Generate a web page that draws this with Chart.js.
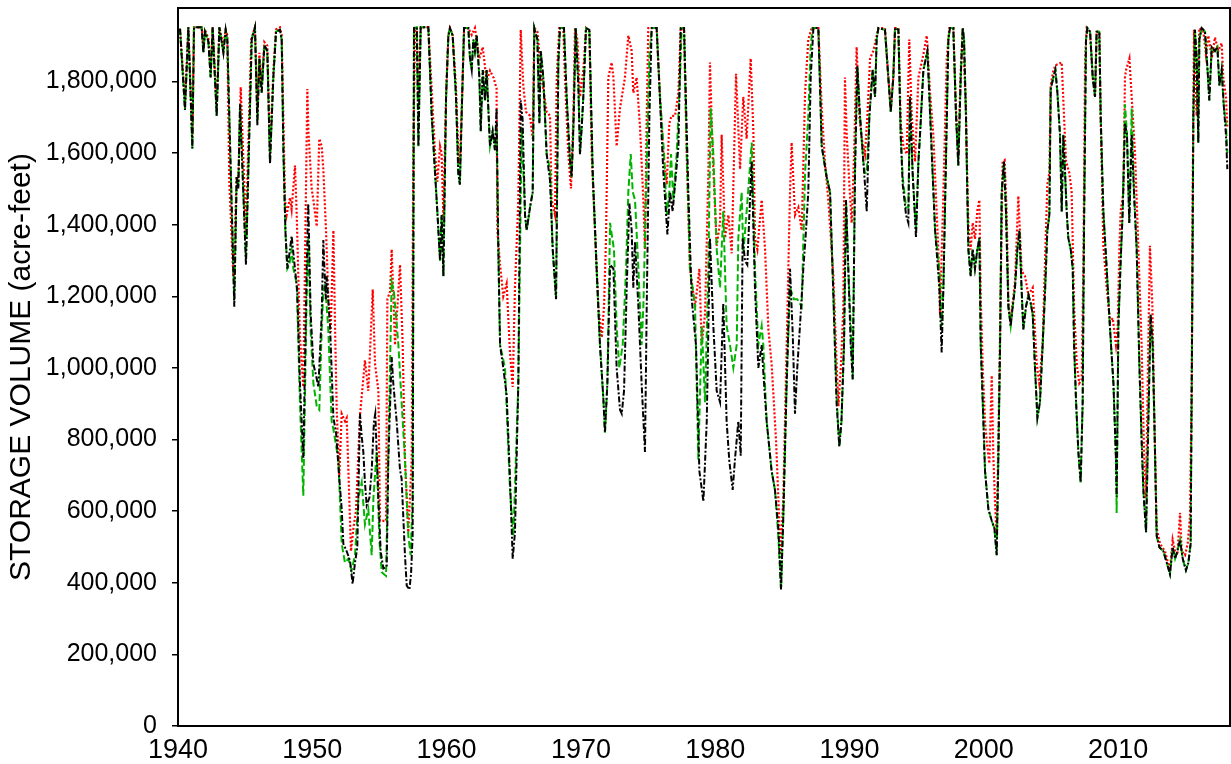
<!DOCTYPE html>
<html>
<head>
<meta charset="utf-8">
<title>Storage volume</title>
<script src="https://cdn.jsdelivr.net/npm/chart.js@4.4.1/dist/chart.umd.min.js"></script>
<style>
  html, body { margin: 0; padding: 0; background: #fff; }
  #wrap { width: 1231px; height: 764px; }
</style>
</head>
<body>
<div id="wrap"><canvas id="storage" width="1231" height="764"></canvas></div>
<script>
// storage series, [year, thousand acre-feet]
const historical = [
  [1940.15,1947],[1940.52,1720],[1940.77,1951],[1941.07,1613],[1941.19,1951],[1941.76,1951],[1941.89,1880],[1942.01,1939],
  [1942.26,1912],[1942.43,1811],[1942.58,1951],[1942.88,1704],[1943.08,1951],[1943.38,1880],[1943.55,1944],[1943.67,1917],
  [1944.19,1171],[1944.37,1533],[1944.49,1501],[1944.62,1736],[1945.06,1288],[1945.49,1917],[1945.73,1951],[1945.91,1677],
  [1946.06,1864],[1946.23,1768],[1946.43,1901],[1946.65,1885],[1946.85,1571],[1947.10,1811],[1947.30,1939],[1947.59,1944],
  [1947.72,1917],[1947.85,1600],[1948.00,1380],[1948.14,1277],[1948.30,1320],[1948.46,1368],[1948.71,1277],[1948.88,1213],
  [1949.08,957],[1949.33,749],[1949.58,1277],[1949.70,1459],[1949.88,1149],[1950.08,1011],[1950.28,979],[1950.45,946],
  [1950.70,1149],[1950.82,1357],[1951.00,1192],[1951.07,1256],[1951.32,1117],[1951.57,861],[1951.77,819],[1952.01,691],
  [1952.19,605],[1952.31,509],[1952.56,488],[1952.81,461],[1953.00,397],[1953.18,456],[1953.35,499],[1953.55,872],
  [1953.68,808],[1953.80,765],[1953.92,680],[1954.05,616],[1954.25,637],[1954.42,712],[1954.59,851],[1954.69,872],
  [1954.92,637],[1955.09,488],[1955.29,440],[1955.54,445],[1955.66,744],[1955.91,1030],[1956.03,957],[1956.28,851],
  [1956.53,715],[1956.65,691],[1956.90,477],[1957.03,392],[1957.23,381],[1957.35,424],[1957.47,531],[1957.57,1949],
  [1957.78,1951],[1957.90,1619],[1958.07,1951],[1958.64,1951],[1958.89,1704],[1959.14,1544],[1959.31,1437],[1959.51,1299],
  [1959.63,1427],[1959.76,1256],[1959.96,1757],[1960.13,1928],[1960.25,1949],[1960.45,1928],[1960.70,1757],[1960.87,1544],
  [1960.99,1512],[1961.12,1704],[1961.30,1949],[1961.62,1949],[1961.74,1864],[1961.87,1832],[1961.99,1917],[1962.11,1885],
  [1962.24,1928],[1962.44,1811],[1962.54,1661],[1962.69,1832],[1962.86,1747],[1962.98,1832],[1963.23,1619],[1963.43,1661],
  [1963.60,1608],[1963.72,1725],[1963.85,1331],[1963.98,1064],[1964.22,1000],[1964.47,925],[1964.72,691],[1964.92,467],
  [1965.09,541],[1965.34,957],[1965.52,1747],[1965.66,1693],[1965.84,1427],[1965.96,1384],[1966.21,1448],[1966.41,1491],
  [1966.53,1949],[1966.76,1917],[1966.91,1683],[1967.01,1885],[1967.20,1811],[1967.45,1597],[1967.70,1523],[1967.90,1331],
  [1968.15,1192],[1968.32,1853],[1968.44,1949],[1968.74,1949],[1968.94,1757],[1969.19,1576],[1969.31,1533],[1969.44,1672],
  [1969.61,1949],[1969.81,1789],[1969.93,1597],[1970.06,1672],[1970.18,1757],[1970.38,1949],[1970.63,1944],[1970.88,1544],
  [1971.17,1277],[1971.42,1064],[1971.67,915],[1971.79,819],[1971.97,957],[1972.17,1288],[1972.42,1277],[1972.66,1000],
  [1972.91,883],[1973.04,872],[1973.21,936],[1973.41,1224],[1973.61,1459],[1973.78,1384],[1973.90,1224],[1974.03,1352],
  [1974.28,1171],[1974.52,957],[1974.77,765],[1974.90,1171],[1975.10,1704],[1975.27,1949],[1975.64,1949],[1975.89,1747],
  [1976.14,1544],[1976.44,1373],[1976.64,1491],[1976.83,1437],[1977.01,1512],[1977.26,1619],[1977.43,1949],[1977.68,1949],
  [1978.00,1491],[1978.25,1192],[1978.57,1064],[1978.82,712],[1979.12,627],[1979.37,851],[1979.61,1363],[1979.86,1117],
  [1980.11,936],[1980.36,904],[1980.60,1181],[1980.85,851],[1981.05,740],[1981.30,659],[1981.47,744],[1981.72,851],
  [1981.90,755],[1982.04,1363],[1982.22,1299],[1982.39,1288],[1982.71,1576],[1982.96,1224],[1983.21,1000],[1983.46,1064],
  [1983.58,989],[1983.83,851],[1984.20,712],[1984.45,659],[1984.70,552],[1984.90,381],[1985.07,584],[1985.32,957],
  [1985.57,1277],[1985.77,1096],[1985.94,872],[1986.11,1000],[1986.31,1117],[1986.56,1277],[1986.76,1384],[1986.93,1491],
  [1987.11,1811],[1987.31,1949],[1987.68,1949],[1987.93,1619],[1988.30,1533],[1988.55,1491],[1988.80,1200],[1989.04,900],
  [1989.24,780],[1989.40,851],[1989.59,1064],[1989.74,1469],[1989.91,1277],[1990.09,1064],[1990.24,968],[1990.41,1544],
  [1990.58,1843],[1990.78,1704],[1991.03,1576],[1991.15,1512],[1991.28,1437],[1991.48,1704],[1991.72,1832],[1991.90,1757],
  [1992.02,1917],[1992.15,1949],[1992.64,1944],[1992.89,1811],[1993.07,1715],[1993.26,1811],[1993.39,1949],[1993.64,1944],
  [1993.81,1651],[1993.96,1512],[1994.21,1427],[1994.38,1405],[1994.50,1757],[1994.70,1544],[1994.95,1363],[1995.13,1576],
  [1995.25,1651],[1995.50,1832],[1995.80,1885],[1996.00,1704],[1996.37,1384],[1996.69,1224],[1996.86,1043],[1996.99,1224],
  [1997.19,1597],[1997.36,1917],[1997.48,1949],[1997.73,1949],[1997.93,1704],[1998.10,1565],[1998.28,1811],[1998.43,1949],
  [1998.53,1917],[1998.67,1704],[1998.77,1491],[1998.85,1331],[1999.02,1256],[1999.17,1331],[1999.34,1277],[1999.52,1331],
  [1999.67,1363],[1999.77,1064],[1999.92,904],[2000.09,712],[2000.34,605],[2000.59,573],[2000.79,552],[2000.96,477],
  [2001.08,744],[2001.21,1064],[2001.33,1491],[2001.50,1576],[2001.65,1437],[2001.83,1171],[2002.00,1117],[2002.15,1171],
  [2002.32,1224],[2002.50,1331],[2002.65,1384],[2002.82,1213],[2002.94,1107],[2003.14,1171],[2003.32,1203],[2003.49,1181],
  [2003.64,1149],[2003.81,1000],[2003.99,861],[2004.18,904],[2004.38,1064],[2004.56,1213],[2004.73,1384],[2004.88,1427],
  [2004.98,1779],[2005.18,1811],[2005.33,1832],[2005.48,1768],[2005.67,1651],[2005.80,1437],[2005.92,1651],[2006.05,1544],
  [2006.17,1437],[2006.29,1363],[2006.47,1331],[2006.62,1277],[2006.72,1064],[2006.87,904],[2007.04,765],[2007.21,680],
  [2007.36,904],[2007.46,1384],[2007.61,1917],[2007.71,1949],[2007.91,1939],[2008.11,1811],[2008.28,1757],[2008.40,1939],
  [2008.60,1939],[2008.70,1704],[2008.90,1437],[2009.15,1277],[2009.40,1107],[2009.65,957],[2009.84,744],[2009.89,640],
  [2010.02,1117],[2010.19,1299],[2010.34,1437],[2010.51,1683],[2010.66,1651],[2010.83,1405],[2011.01,1651],[2011.18,1491],
  [2011.38,1331],[2011.58,1011],[2011.75,797],[2011.88,659],[2012.08,541],[2012.25,851],[2012.42,1149],[2012.57,1064],
  [2012.70,851],[2012.87,531],[2013.07,499],[2013.37,488],[2013.62,456],[2013.86,424],[2014.06,499],[2014.24,467],
  [2014.41,488],[2014.61,520],[2014.81,467],[2015.05,435],[2015.23,456],[2015.40,509],[2015.52,1171],[2015.60,1704],
  [2015.72,1944],[2015.85,1864],[2015.97,1629],[2016.05,1917],[2016.22,1949],[2016.47,1939],[2016.64,1843],[2016.79,1747],
  [2016.97,1896],[2017.21,1885],[2017.39,1896],[2017.54,1789],[2017.71,1832],[2017.88,1725],[2018.03,1651],[2018.13,1555]
];

const baseline = [
  [1940.15,1947],[1940.52,1720],[1940.77,1951],[1941.07,1613],[1941.19,1951],[1941.76,1951],[1941.89,1880],[1942.01,1939],
  [1942.26,1912],[1942.43,1811],[1942.58,1951],[1942.88,1704],[1943.08,1951],[1943.38,1880],[1943.55,1944],[1943.67,1917],
  [1944.19,1190],[1944.37,1533],[1944.49,1501],[1944.62,1736],[1945.06,1300],[1945.49,1917],[1945.73,1951],[1945.91,1690],
  [1946.06,1864],[1946.23,1768],[1946.43,1901],[1946.65,1885],[1946.85,1571],[1947.10,1811],[1947.30,1939],[1947.59,1944],
  [1947.72,1917],[1947.85,1600],[1948.00,1380],[1948.14,1277],[1948.30,1290],[1948.46,1330],[1948.59,1277],[1948.84,1235],
  [1949.08,900],[1949.33,643],[1949.58,1200],[1949.70,1363],[1949.88,1100],[1950.08,957],[1950.33,893],[1950.52,883],
  [1950.70,1107],[1950.82,1213],[1950.95,1235],[1951.19,1107],[1951.44,851],[1951.57,829],[1951.94,744],[1952.19,509],
  [1952.43,456],[1952.68,467],[1952.93,435],[1953.18,477],[1953.43,637],[1953.68,680],[1953.92,563],[1954.17,605],
  [1954.42,477],[1954.55,637],[1954.79,765],[1954.99,520],[1955.17,429],[1955.49,419],[1955.66,765],[1955.91,1240],
  [1956.08,1213],[1956.41,1064],[1956.65,904],[1956.90,744],[1957.15,531],[1957.32,477],[1957.47,637],[1957.57,1949],
  [1957.78,1951],[1957.90,1619],[1958.07,1951],[1958.64,1951],[1958.89,1704],[1959.14,1544],[1959.31,1437],[1959.51,1299],
  [1959.63,1427],[1959.76,1256],[1959.96,1757],[1960.13,1928],[1960.25,1949],[1960.45,1928],[1960.70,1757],[1960.87,1544],
  [1960.99,1512],[1961.12,1704],[1961.30,1949],[1961.62,1949],[1961.74,1864],[1961.87,1832],[1961.99,1917],[1962.11,1885],
  [1962.24,1928],[1962.44,1811],[1962.54,1661],[1962.69,1832],[1962.86,1747],[1962.98,1832],[1963.23,1619],[1963.43,1661],
  [1963.60,1608],[1963.72,1672],[1963.85,1331],[1963.98,1064],[1964.35,1000],[1964.72,659],[1964.97,531],[1965.09,669],
  [1965.34,957],[1965.59,1672],[1965.84,1427],[1965.96,1384],[1966.21,1448],[1966.41,1491],[1966.53,1949],[1966.76,1917],
  [1966.91,1683],[1967.01,1885],[1967.20,1811],[1967.45,1597],[1967.70,1555],[1967.90,1331],[1968.15,1192],[1968.32,1853],
  [1968.44,1949],[1968.74,1949],[1968.94,1757],[1969.19,1576],[1969.31,1533],[1969.44,1672],[1969.61,1949],[1969.81,1789],
  [1969.93,1597],[1970.06,1672],[1970.18,1757],[1970.38,1949],[1970.63,1944],[1970.88,1544],[1971.17,1277],[1971.42,1064],
  [1971.67,915],[1971.79,819],[1971.97,957],[1972.17,1405],[1972.46,1331],[1972.66,1117],[1972.86,1000],[1973.11,1064],
  [1973.36,1277],[1973.53,1491],[1973.71,1597],[1973.86,1491],[1974.03,1469],[1974.28,1277],[1974.52,1064],[1974.65,1171],
  [1974.77,1363],[1974.95,1651],[1975.10,1864],[1975.27,1949],[1975.64,1949],[1975.89,1757],[1976.19,1597],[1976.39,1427],
  [1976.58,1491],[1976.71,1597],[1976.88,1469],[1977.13,1597],[1977.38,1811],[1977.50,1949],[1977.68,1949],[1977.88,1597],
  [1978.12,1277],[1978.50,1171],[1978.74,744],[1979.00,1117],[1979.24,904],[1979.49,1277],[1979.66,1725],[1979.86,1597],
  [1980.11,1331],[1980.36,1224],[1980.60,1437],[1980.85,1117],[1981.10,1064],[1981.35,1000],[1981.60,1064],[1981.72,1363],
  [1981.97,1491],[1982.09,1320],[1982.34,1437],[1982.72,1629],[1982.96,1277],[1983.21,1064],[1983.46,1117],[1983.58,1064],
  [1983.83,851],[1984.20,712],[1984.45,659],[1984.70,531],[1984.90,381],[1985.07,584],[1985.32,957],[1985.57,1224],
  [1985.86,1192],[1986.11,1192],[1986.44,1171],[1986.69,1544],[1986.93,1704],[1987.11,1900],[1987.25,1949],[1987.68,1949],
  [1987.93,1619],[1988.30,1533],[1988.55,1491],[1988.80,1200],[1989.04,920],[1989.24,780],[1989.40,851],[1989.59,1064],
  [1989.74,1469],[1989.91,1277],[1990.09,1117],[1990.24,968],[1990.41,1576],[1990.58,1843],[1990.78,1704],[1991.03,1576],
  [1991.15,1544],[1991.28,1544],[1991.48,1704],[1991.72,1832],[1991.90,1757],[1992.02,1917],[1992.15,1949],[1992.64,1944],
  [1992.89,1811],[1993.07,1715],[1993.26,1811],[1993.39,1949],[1993.64,1944],[1993.81,1651],[1993.96,1533],[1994.21,1448],
  [1994.38,1448],[1994.50,1757],[1994.70,1544],[1994.95,1384],[1995.13,1576],[1995.25,1651],[1995.50,1832],[1995.80,1885],
  [1996.00,1725],[1996.37,1384],[1996.69,1277],[1996.86,1117],[1996.99,1224],[1997.19,1597],[1997.36,1917],[1997.48,1949],
  [1997.73,1949],[1997.93,1704],[1998.10,1565],[1998.28,1811],[1998.43,1949],[1998.53,1917],[1998.67,1704],[1998.77,1491],
  [1998.85,1331],[1999.02,1256],[1999.17,1331],[1999.34,1277],[1999.52,1331],[1999.67,1363],[1999.77,1064],[1999.92,904],
  [2000.09,712],[2000.34,605],[2000.59,573],[2000.79,552],[2000.96,477],[2001.08,744],[2001.21,1064],[2001.33,1491],
  [2001.50,1576],[2001.65,1437],[2001.83,1171],[2002.00,1117],[2002.15,1171],[2002.32,1224],[2002.50,1331],[2002.65,1384],
  [2002.82,1213],[2002.94,1107],[2003.14,1171],[2003.32,1203],[2003.49,1181],[2003.64,1149],[2003.81,1000],[2003.99,861],
  [2004.18,904],[2004.38,1064],[2004.56,1213],[2004.73,1384],[2004.88,1427],[2004.98,1779],[2005.18,1811],[2005.33,1832],
  [2005.48,1768],[2005.67,1651],[2005.80,1437],[2005.92,1651],[2006.05,1544],[2006.17,1437],[2006.29,1363],[2006.47,1331],
  [2006.62,1277],[2006.72,1064],[2006.87,904],[2007.04,765],[2007.21,680],[2007.36,904],[2007.46,1384],[2007.61,1917],
  [2007.71,1949],[2007.91,1939],[2008.11,1811],[2008.28,1757],[2008.40,1939],[2008.60,1939],[2008.70,1704],[2008.90,1437],
  [2009.15,1277],[2009.40,1107],[2009.65,957],[2009.84,744],[2009.89,595],[2010.02,1117],[2010.19,1299],[2010.34,1437],
  [2010.51,1736],[2010.66,1651],[2010.83,1405],[2011.01,1725],[2011.18,1491],[2011.38,1331],[2011.58,1011],[2011.75,797],
  [2011.88,659],[2012.08,541],[2012.25,851],[2012.42,1149],[2012.57,1064],[2012.70,851],[2012.87,531],[2013.07,499],
  [2013.37,488],[2013.62,456],[2013.86,424],[2014.06,499],[2014.24,467],[2014.41,488],[2014.61,520],[2014.81,467],
  [2015.05,435],[2015.23,456],[2015.40,509],[2015.52,1171],[2015.60,1704],[2015.72,1944],[2015.85,1864],[2015.97,1629],
  [2016.05,1917],[2016.22,1949],[2016.47,1939],[2016.64,1843],[2016.79,1747],[2016.97,1896],[2017.21,1885],[2017.39,1896],
  [2017.54,1789],[2017.71,1832],[2017.88,1725],[2018.03,1680],[2018.13,1600]
];

const alternative = [
  [1940.15,1947],[1940.52,1747],[1940.77,1951],[1941.07,1650],[1941.19,1951],[1941.76,1951],[1941.89,1900],[1942.01,1945],
  [1942.26,1920],[1942.43,1830],[1942.58,1951],[1942.88,1725],[1943.08,1951],[1943.38,1900],[1943.55,1944],[1943.67,1930],
  [1943.82,1520],[1944.12,1256],[1944.37,1533],[1944.49,1520],[1944.67,1784],[1945.06,1384],[1945.45,1917],[1945.73,1951],
  [1945.91,1720],[1946.06,1880],[1946.23,1790],[1946.43,1910],[1946.65,1900],[1946.85,1600],[1947.10,1830],[1947.30,1945],
  [1947.59,1951],[1947.72,1930],[1947.97,1469],[1948.09,1427],[1948.34,1475],[1948.46,1443],[1948.71,1565],[1948.84,1427],
  [1949.08,1085],[1949.33,947],[1949.63,1779],[1949.71,1661],[1949.95,1501],[1950.08,1469],[1950.33,1395],[1950.52,1640],
  [1950.70,1619],[1950.82,1555],[1951.02,1384],[1951.19,1200],[1951.37,1100],[1951.57,1384],[1951.70,1100],[1951.82,880],
  [1952.01,700],[1952.19,872],[1952.44,851],[1952.56,860],[1952.88,488],[1953.06,552],[1953.25,600],[1953.55,867],
  [1953.92,1021],[1954.17,936],[1954.50,1219],[1954.67,1011],[1954.92,936],[1955.04,573],[1955.49,573],[1955.59,1192],
  [1955.79,1213],[1955.91,1331],[1956.16,1064],[1956.53,1288],[1956.73,1064],[1956.90,744],[1957.15,541],[1957.40,744],
  [1957.52,1597],[1957.65,1949],[1957.78,1949],[1957.90,1770],[1958.07,1951],[1958.64,1951],[1958.89,1779],[1959.14,1600],
  [1959.31,1520],[1959.51,1619],[1959.63,1600],[1959.76,1420],[1959.96,1757],[1960.13,1930],[1960.25,1949],[1960.45,1930],
  [1960.70,1780],[1960.87,1600],[1960.99,1570],[1961.12,1720],[1961.30,1949],[1961.62,1949],[1961.87,1930],[1962.11,1949],
  [1962.44,1864],[1962.69,1896],[1962.98,1800],[1963.23,1830],[1963.50,1810],[1963.72,1780],[1963.78,1384],[1963.98,1288],
  [1964.22,1200],[1964.47,1235],[1964.72,1043],[1964.92,947],[1965.09,1224],[1965.34,1469],[1965.52,1944],[1965.71,1789],
  [1965.91,1715],[1966.21,1704],[1966.41,1640],[1966.53,1949],[1966.76,1939],[1967.08,1811],[1967.45,1715],[1967.70,1704],
  [1967.82,1469],[1968.07,1427],[1968.20,1811],[1968.39,1949],[1968.69,1949],[1968.81,1811],[1969.06,1597],[1969.26,1501],
  [1969.44,1704],[1969.56,1949],[1969.74,1917],[1969.93,1757],[1970.18,1832],[1970.38,1949],[1970.63,1939],[1970.80,1597],
  [1971.05,1384],[1971.30,1171],[1971.55,1085],[1971.72,1171],[1971.87,1363],[1972.04,1811],[1972.29,1853],[1972.42,1811],
  [1972.66,1619],[1972.91,1725],[1973.28,1811],[1973.53,1928],[1973.78,1885],[1973.90,1768],[1974.15,1811],[1974.40,1672],
  [1974.65,1469],[1974.77,1331],[1974.90,1704],[1975.02,1949],[1975.64,1949],[1975.89,1757],[1976.14,1597],[1976.39,1512],
  [1976.58,1683],[1976.75,1704],[1977.01,1704],[1977.26,1768],[1977.43,1949],[1977.68,1944],[1977.88,1597],[1978.12,1277],
  [1978.50,1171],[1978.82,1277],[1978.99,1064],[1979.24,1149],[1979.49,1544],[1979.61,1853],[1979.81,1597],[1980.11,1341],
  [1980.36,1405],[1980.48,1651],[1980.73,1363],[1980.98,1427],[1981.23,1320],[1981.55,1821],[1981.85,1555],[1982.09,1757],
  [1982.34,1640],[1982.64,1864],[1982.84,1660],[1982.96,1363],[1983.14,1331],[1983.46,1469],[1983.71,1331],[1983.96,1107],
  [1984.20,1011],[1984.53,797],[1984.70,637],[1984.87,477],[1985.07,637],[1985.32,1064],[1985.57,1491],[1985.69,1629],
  [1985.94,1427],[1986.19,1448],[1986.44,1384],[1986.69,1768],[1986.93,1917],[1987.18,1949],[1987.68,1949],[1987.93,1725],
  [1988.17,1576],[1988.42,1469],[1988.80,1256],[1989.04,1011],[1989.17,893],[1989.37,1011],[1989.54,1171],[1989.66,1811],
  [1989.79,1651],[1989.99,1512],[1990.16,1405],[1990.34,1597],[1990.53,1896],[1990.73,1704],[1990.91,1640],[1991.15,1597],
  [1991.33,1704],[1991.53,1864],[1991.77,1885],[1992.15,1949],[1992.64,1949],[1992.89,1811],[1993.07,1725],[1993.26,1811],
  [1993.39,1949],[1993.64,1949],[1993.81,1683],[1994.01,1619],[1994.26,1597],[1994.45,1917],[1994.63,1704],[1994.88,1576],
  [1995.13,1811],[1995.50,1875],[1995.75,1928],[1996.00,1768],[1996.24,1651],[1996.61,1331],[1996.74,1149],[1996.99,1491],
  [1997.24,1864],[1997.43,1949],[1997.73,1949],[1997.93,1720],[1998.10,1600],[1998.28,1830],[1998.43,1949],[1998.67,1720],
  [1998.77,1520],[1998.85,1400],[1999.02,1330],[1999.17,1405],[1999.34,1360],[1999.52,1440],[1999.67,1469],[1999.77,1200],
  [1999.92,1000],[2000.09,850],[2000.21,797],[2000.41,733],[2000.59,979],[2000.71,750],[2000.84,620],[2000.96,531],
  [2001.08,800],[2001.21,1100],[2001.40,1576],[2001.55,1580],[2001.70,1437],[2001.83,1180],[2002.00,1130],[2002.32,1240],
  [2002.57,1480],[2002.82,1270],[2003.07,1256],[2003.32,1203],[2003.64,1224],[2003.94,1011],[2004.13,957],[2004.38,1064],
  [2004.56,1300],[2004.73,1512],[2004.88,1545],[2004.98,1790],[2005.18,1830],[2005.33,1845],[2005.80,1853],[2005.97,1704],
  [2006.12,1576],[2006.37,1544],[2006.54,1491],[2006.72,1171],[2006.92,1011],[2007.11,957],[2007.29,968],[2007.41,1277],
  [2007.54,1864],[2007.66,1949],[2007.91,1939],[2008.11,1811],[2008.28,1757],[2008.40,1939],[2008.60,1939],[2008.70,1704],
  [2008.90,1341],[2009.15,1224],[2009.40,1128],[2009.60,1139],[2009.84,1064],[2009.97,1117],[2010.09,1331],[2010.19,1437],
  [2010.39,1491],[2010.51,1811],[2010.59,1832],[2010.84,1864],[2011.01,1757],[2011.26,1597],[2011.50,1341],[2011.75,1064],
  [2011.93,765],[2012.08,637],[2012.20,957],[2012.37,1341],[2012.55,1171],[2012.70,851],[2012.87,552],[2013.12,509],
  [2013.49,488],[2013.86,435],[2014.06,520],[2014.24,488],[2014.41,477],[2014.61,595],[2014.73,488],[2014.98,477],
  [2015.18,509],[2015.35,584],[2015.48,957],[2015.55,1491],[2015.65,1944],[2015.85,1704],[2016.05,1949],[2016.35,1939],
  [2016.54,1875],[2016.72,1928],[2016.97,1864],[2017.21,1923],[2017.46,1885],[2017.71,1907],[2017.83,1811],[2018.03,1757],
  [2018.13,1672]
];

const yearTicks = [1940, 1950, 1960, 1970, 1980, 1990, 2000, 2010];
const volumeTicks = [0, 200000, 400000, 600000, 800000, 1000000, 1200000, 1400000, 1600000, 1800000];

function toPoints(series) {
  return series.map(([t, v]) => ({ x: t, y: v * 1000 }));
}

// box round the plot area
const frame = {
  id: "frame",
  afterDraw(chart) {
    const { ctx, chartArea: a } = chart;
    ctx.save();
    ctx.strokeStyle = "#000";
    ctx.lineWidth = 2;
    ctx.strokeRect(a.left, a.top, a.right - a.left, a.bottom - a.top);
    ctx.restore();
  }
};

Chart.defaults.font.family = "'Liberation Sans', Arial, sans-serif";
Chart.defaults.color = "#000";

new Chart(document.getElementById("storage"), {
  type: "line",
  data: {
    datasets: [
      {
        label: "Historical",
        data: toPoints(historical),
        borderColor: "#000000",
        borderWidth: 2,
        borderDash: [6, 2, 2, 2],
        order: 0
      },
      {
        label: "Baseline",
        data: toPoints(baseline),
        borderColor: "#00b400",
        borderWidth: 2,
        borderDash: [7, 3],
        order: 1
      },
      {
        label: "Alternative",
        data: toPoints(alternative),
        borderColor: "#ff0000",
        borderWidth: 2.2,
        borderDash: [2, 2],
        order: 2
      }
    ]
  },
  options: {
    responsive: false,
    animation: false,
    events: [],
    layout: { padding: { top: 8, right: 1, left: 0, bottom: 0 } },
    elements: { point: { radius: 0 }, line: { tension: 0, fill: false } },
    plugins: { legend: { display: false }, tooltip: { enabled: false } },
    scales: {
      x: {
        type: "linear",
        min: 1940,
        max: 2018.33,
        afterBuildTicks: (s) => { s.ticks = yearTicks.map((v) => ({ value: v })); },
        afterFit: (s) => { s.height = 38; s.paddingLeft = 0; s.paddingRight = 0; },
        border: { display: false },
        grid: { display: false, drawTicks: false },
        ticks: {
          autoSkip: false,
          maxRotation: 0,
          padding: 8,
          font: { size: 27 },
          callback: (v) => String(v)
        }
      },
      y: {
        min: 0,
        max: 2005000,
        afterBuildTicks: (s) => { s.ticks = volumeTicks.map((v) => ({ value: v })); },
        afterFit: (s) => { s.width = 178; s.paddingTop = 0; s.paddingBottom = 0; },
        border: { display: false },
        grid: { drawOnChartArea: false, drawTicks: true, tickLength: 6, color: "#000", lineWidth: 1.5 },
        ticks: {
          autoSkip: false,
          padding: 15,
          font: { size: 25 },
          callback: (v) => v.toLocaleString("en-US")
        },
        title: {
          display: true,
          text: "STORAGE VOLUME (acre-feet)",
          font: { size: 30 },
          padding: { top: 4, bottom: 0 }
        }
      }
    }
  },
  plugins: [frame]
});
</script>
</body>
</html>
